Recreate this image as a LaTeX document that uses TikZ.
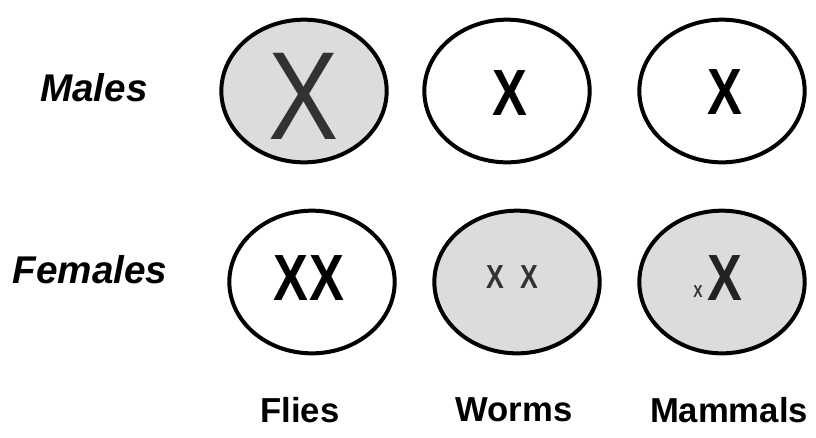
\documentclass[tikz,border=0pt]{standalone}
\usepackage{fontspec}
\setmainfont{Liberation Sans}
\usetikzlibrary{shapes.geometric}
\definecolor{cellgray}{RGB}{220,220,220}
\definecolor{xdark}{RGB}{50,50,50}

\begin{document}
\begin{tikzpicture}[x=0.75pt, y=-0.75pt,
  cell/.style={ellipse, draw, line width=3pt, inner sep=0pt,
               minimum width=124pt, minimum height=107pt},
  shaded/.style={cell, fill=cellgray},
  rowlbl/.style={font=\fontsize{29}{30}\selectfont\bfseries\itshape},
  collbl/.style={font=\fontsize{26}{30}\selectfont\bfseries},
  bigx/.style={font=\fontsize{49}{50}\selectfont\bfseries}]
\useasboundingbox (0,0) rectangle (816,437);
% cells
\node[shaded] (fm) at (304,91) {};
\node[cell]   (wm) at (507,91) {};
\node[cell]   (mm) at (722,91) {};
\node[cell]   (ff) at (312,282) {};
\node[shaded] (wf) at (517,282) {};
\node[shaded] (mf) at (722,282) {};
% chromosomes
\node[text=xdark, font=\fontsize{94}{94}\selectfont] (fmx) at (304,96) {\scalebox{0.84}[1]{X}};
\node[bigx] (wmx) at (510,93) {\scalebox{0.8}[1]{X}};
\node[bigx] (mmx) at (725,92) {\scalebox{0.8}[1]{X}};
\node[bigx] (ffx) at (309,278) {\scalebox{0.8}[1]{X\hspace{1pt}X}};
\node[text=xdark, font=\fontsize{25}{25}\selectfont\bfseries] (wfx) at (512,277)
  {\scalebox{0.8}[1]{X\hspace{15pt}X}};
\node[bigx, text=xdark!70!black] (mfx) at (725,278) {\scalebox{0.8}[1]{X}};
\node[text=xdark, font=\fontsize{13}{13}\selectfont\bfseries] (mfs) at (698,292) {\scalebox{0.8}[1]{X}};
% labels
\node[rowlbl] (males) at (94,88) {Males};
\node[rowlbl] (females) at (90,270) {Females};
\node[collbl] (flies) at (300,410) {Flies};
\node[collbl] (worms) at (514,410) {Worms};
\node[collbl] (mammals) at (729,410) {Mammals};
\end{tikzpicture}
\end{document}
